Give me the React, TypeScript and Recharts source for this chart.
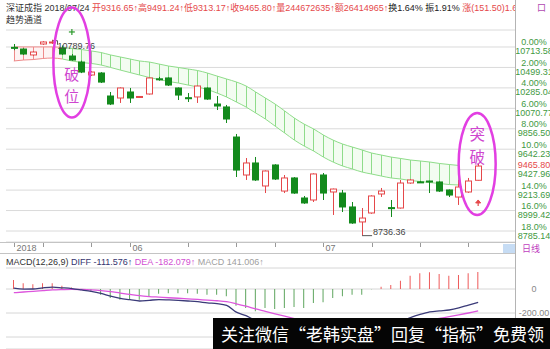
import React from 'react';
import { ComposedChart, Bar, Line, Area, XAxis, YAxis, CartesianGrid, ReferenceDot, Cell } from 'recharts';

// trading days, 2018
const dates = ['05-16','05-17','05-18','05-21','05-22','05-23','05-24','05-25','05-28','05-29','05-30','05-31',
  '06-01','06-04','06-05','06-06','06-07','06-08','06-11','06-12','06-13','06-14','06-15','06-19','06-20','06-21',
  '06-22','06-25','06-26','06-27','06-28','06-29',
  '07-02','07-03','07-04','07-05','07-06','07-09','07-10','07-11','07-12','07-13','07-16','07-17','07-18','07-19',
  '07-20','07-23','07-24'];

const opens = [10710,10692,10630,10745,10756,10703,10619,10556,10420,10441,10200,10179,10242,10185,10221,10380,10389,
  10284,10182,10190,10284,10116,10085,9770,9372,9498,9257,9477,9204,9341,9131,9110,9372,9194,9183,9037,8880,8974,
  9173,9030,9026,9288,9300,9309,9299,9215,9141,9194,9316.65];
const highs = [10745,10700,10670,10775,10789.76,10730,10640,10570,10462,10450,10242,10290,10284,10200,10395,10400,
  10395,10290,10231,10310,10290,10200,10106,9802,9550,9561,9420,9485,9372,9350,9152,9390,9393,9230,9215,9089,9026,
  9160,9236,9110,9320,9330,9310,9312,9305,9220,9320,9341,9491.24];
const lows = [10680,10630,10620,10735,10745,10630,10570,10440,10410,10336,10105,10127,10127,10179,10215,10360,10305,
  10158,10137,10127,10160,10053,9917,9351,9320,9310,9183,9320,9183,9175,9070,9089,9110,8953,8984,8860,8736.36,8965,
  9142,8932,9020,9280,9290,9183,9195,9141,9058,9185,9313.17];
const closes = [10705,10640,10661,10766,10766,10640,10577,10451,10451,10346,10116,10284,10179,10195,10389,10372,10315,
  10210,10176,10305,10168,10095,9959,9424,9498,9320,9414,9330,9341,9183,9079,9383,9183,9225,9037,8869,8921,9152,
  9204,9022,9288,9320,9298,9299,9204,9162,9246,9309,9465.80];

// 趋势通道 upper / lower edge
const chanUpper = [10714,10714,10714,10714,10714,10708,10698,10687,10672,10656,10630,10609,10588,10567,10556,10535,
  10514,10499,10483,10467,10441,10409,10378,10347,10305,10242,10179,10116,10043,9969,9906,9854,9791,9738,9696,9665,
  9634,9602,9581,9560,9545,9529,9519,9508,9493,9482,9472];
const chanLower = [10567,10577,10582,10593,10598,10588,10567,10551,10541,10525,10499,10472,10446,10420,10394,10373,
  10352,10336,10315,10294,10268,10231,10189,10137,10085,10022,9959,9885,9812,9738,9676,9623,9560,9508,9466,9435,
  9403,9382,9361,9341,9330,9314,9304,9293,9283,9272,9267];
const RED_CHANNEL_END = 5;

const diff = [7,-1,0,10,16,10,3,-8,-20,-37,-60,-78,-89,-100,-94,-88,-91,-95,-100,-106,-116,-122,-137,-193,-222,-259,
  -265,-291,-306,-321,-344,-338,-349,-341,-341,-340,-346,-325,-311,-300,-273,-239,-212,-191,-182,-175,-158,-134,-111.576];
const dea = [-31,-25,-20,-14,-8,-5,-3,-4,-7,-13,-22,-34,-45,-56,-63,-68,-73,-77,-82,-87,-93,-98,-106,-123,-143,-166,
  -186,-207,-227,-246,-265,-280,-294,-303,-311,-317,-323,-323,-321,-317,-308,-294,-278,-260,-245,-231,-216,-200,-182.079];
const macd = [75,47,40,47,47,28,12,-8,-25,-47,-75,-89,-89,-89,-61,-39,-36,-36,-36,-39,-47,-47,-61,-139,-158,-186,-158,
  -167,-158,-150,-158,-117,-111,-75,-61,-47,-47,-3,19,33,69,111,131,139,125,111,117,131,141.006];

const gridPrices = [10713.58,10499.31,10285.04,10070.77,9856.50,9642.23,9427.96,9213.69,8999.42,8785.14];
const gridPercents = ['0.00%','2.00%','4.00%','6.00%','8.00%','10.0%','12.0%','14.0%','16.0%','18.0%'];
const macdTicks = [0, -200, -400];
const macdLabels = ['0', '-200.00', ''];
const tickDates = ['05-16','05-21','05-28','06-01','06-11','06-19','06-25','07-02','07-09','07-16','07-23'];
const dateLabels: Record<string, string> = { '05-16': '2018', '06-01': '06', '07-02': '07' };

const PRICE_MIN = 8669.86;
const PRICE_MAX = 10891.66;

const RED = '#e5484a';
const GREEN = '#138a1c';
const CH_GREEN = '#8fdc8a';
const CH_RED = '#ee8a8a';
const AXIS_GREEN = '#3f9a3f';
const FONT = '"Liberation Sans", "Noto Sans CJK SC", sans-serif';
const CJK = '"Noto Sans CJK SC", sans-serif';
const LABEL_X = 534;

const rows = dates.map((d, i) => ({
  d,
  o: opens[i], h: highs[i], l: lows[i], c: closes[i],
  redBand: i <= RED_CHANNEL_END ? [chanLower[i], chanUpper[i]] : null,
  greenBand: i >= RED_CHANNEL_END && i < chanUpper.length ? [chanLower[i], chanUpper[i]] : null,
  hatch: i < chanUpper.length ? [chanLower[i], chanUpper[i]] : null,
  diff: diff[i], dea: dea[i], macd: macd[i],
}));

function Candle(p: any) {
  const { x, y, width, height, payload } = p;
  if (!payload || !isFinite(y)) return null;
  const { o, h, l, c } = payload;
  const top = Math.min(y, y + height);
  const span = Math.abs(height);
  const k = span / (h - l);
  const py = (v: number) => top + (h - v) * k;
  const up = c >= o;
  const col = up ? RED : GREEN;
  const cx = Math.round(x + width / 2) + 0.5;
  const bTop = py(Math.max(o, c));
  const bh = Math.max(1, py(Math.min(o, c)) - bTop);
  return (
    <g>
      <line x1={cx} x2={cx} y1={top} y2={top + span} stroke={col} strokeWidth={1} />
      <rect x={cx - 3} y={bTop} width={6} height={bh} fill={up ? '#fff' : col} stroke={col} strokeWidth={1} />
    </g>
  );
}

function Hatch(p: any) {
  const { x, y, width, height, payload, index } = p;
  if (!payload || !payload.hatch || !isFinite(y)) return null;
  const cx = Math.round(x + width / 2) + 0.5;
  return <line x1={cx} x2={cx} y1={y} y2={y + height} stroke={index < RED_CHANNEL_END ? CH_RED : CH_GREEN} strokeWidth={1} />;
}

function PriceTick(p: any) {
  const i = gridPrices.indexOf(p.payload.value);
  return (
    <g fontSize={9} fontFamily={FONT} fill={AXIS_GREEN} textAnchor="middle">
      {i !== 6 && <text x={LABEL_X} y={p.y - 1.5}>{gridPercents[i]}</text>}
      <text x={LABEL_X} y={p.y + 7.5}>{p.payload.value.toFixed(2)}</text>
    </g>
  );
}

function DateTick(p: any) {
  const label = dateLabels[p.payload.value];
  const x = Math.round(p.x) + 0.5;
  return (
    <g>
      <line x1={x} x2={x} y1={243} y2={247} stroke="#999" />
      {label && <text x={x + 2} y={251} fontSize={9} fontFamily={FONT} fill="#777">{label}</text>}
    </g>
  );
}

function MacdTick(p: any) {
  const label = macdLabels[macdTicks.indexOf(p.payload.value)];
  if (!label) return null;
  return (
    <text x={LABEL_X} y={p.y + 3} fontSize={9} fontFamily={FONT} fill="#888" textAnchor="middle">{label}</text>
  );
}

// hand-drawn style note: ellipse with two stacked characters
function Note({ cx, cy, rx, ry, chars, size, top, gap }: any) {
  return (
    <g>
      <ellipse cx={cx} cy={cy} rx={rx} ry={ry} fill="none" stroke="#e23fe2" strokeWidth={2.5} />
      <text fontSize={size} fontFamily={CJK} fill="#cf46cf" textAnchor="middle">
        <tspan x={cx} y={cy + top}>{chars[0]}</tspan>
        <tspan x={cx} dy={gap}>{chars[1]}</tspan>
      </text>
    </g>
  );
}

function Header() {
  const line: React.CSSProperties = { position: 'absolute', left: 6, fontSize: 9, lineHeight: '12px', whiteSpace: 'nowrap' };
  return (
    <>
      <div style={{ ...line, top: 2, width: 509, overflow: 'hidden' }}>
        <span style={{ color: '#333' }}>深证成指 2018/07/24 </span>
        <span style={{ color: RED }}>开9316.65↑高9491.24↑低9313.17↑收9465.80↑量244672635↑额26414965↑</span>
        <span style={{ color: '#222' }}>换1.64% 振1.91% </span>
        <span style={{ color: RED }}>涨(151.50)1.63%</span>
      </div>
      <div style={{ ...line, top: 2, left: 537, color: '#b048b0', fontFamily: CJK }}>口</div>
      <div style={{ ...line, top: 14, color: '#333' }}>趋势通道</div>
      <div style={{ ...line, top: 256 }}>
        <span style={{ color: '#333' }}>MACD(12,26,9)</span>
        <span style={{ color: '#35356f' }}>{'  '}DIFF -111.576↑</span>
        <span style={{ color: '#d24fd2' }}> DEA -182.079↑</span>
        <span style={{ color: '#a0a0a0' }}> MACD 141.006↑</span>
      </div>
    </>
  );
}

export default function App() {
  return (
    <div style={{ position: 'relative', width: 550, height: 349, background: '#fff', overflow: 'hidden', fontFamily: FONT }}>
      <style>{'body{margin:0}'}</style>
      <Header />

      <div style={{ position: 'absolute', left: 0, top: 0 }}>
        <ComposedChart width={550} height={256} data={rows} margin={{ top: 30, right: 0, bottom: 0, left: 6 }}>
          <CartesianGrid xAxisId="p" yAxisId="p" vertical={false} stroke="#dadada" />
          <XAxis xAxisId="p" dataKey="d" height={14} padding={{ left: 3, right: 32 }} ticks={tickDates} interval={0}
            tickLine={false} axisLine={false} tick={(p: any) => <DateTick {...p} />} />
          <XAxis xAxisId="h" dataKey="d" hide padding={{ left: 3, right: 32 }} />
          <YAxis yAxisId="p" orientation="right" width={35} domain={[PRICE_MIN, PRICE_MAX]} allowDataOverflow
            ticks={gridPrices} interval={0} tickLine={false} axisLine={false} tick={(p: any) => <PriceTick {...p} />} />

          <Area xAxisId="p" yAxisId="p" type="monotone" dataKey="redBand" stroke={CH_RED} fill="#fdf3f3" fillOpacity={1}
            dot={false} activeDot={false} isAnimationActive={false} />
          <Area xAxisId="p" yAxisId="p" type="monotone" dataKey="greenBand" stroke={CH_GREEN} fill="#f3fcf1" fillOpacity={1}
            dot={false} activeDot={false} isAnimationActive={false} />
          <Bar xAxisId="h" yAxisId="p" dataKey="hatch" barSize={1} shape={(p: any) => <Hatch {...p} />} isAnimationActive={false} />
          <Bar xAxisId="p" yAxisId="p" dataKey={(r: any) => [r.l, r.h]} barSize={7} shape={(p: any) => <Candle {...p} />}
            isAnimationActive={false} />

          <ReferenceDot xAxisId="p" yAxisId="p" x={dates[4]} y={highs[4]} shape={(p: any) => (
            <g>
              <polyline points={`${p.cx},${p.cy + 1} ${p.cx + 5},${p.cy + 1} ${p.cx + 5},${p.cy + 5}`} fill="none" stroke="#555" />
              <text x={p.cx + 5} y={p.cy + 9} fontSize={9} fontFamily={FONT} fill="#444">10789.76</text>
            </g>
          )} />
          <ReferenceDot xAxisId="p" yAxisId="p" x={dates[36]} y={lows[36]} shape={(p: any) => (
            <g>
              <line x1={p.cx} x2={p.cx + 10} y1={p.cy} y2={p.cy} stroke="#555" />
              <text x={p.cx + 11} y={p.cy - 1} fontSize={9} fontFamily={FONT} fill="#444">8736.36</text>
            </g>
          )} />
          <ReferenceDot xAxisId="p" yAxisId="p" x={dates[48]} y={closes[48]} shape={(p: any) => (
            <text x={LABEL_X} y={p.cy + 2} fontSize={9} fontFamily={FONT} fill={RED} textAnchor="middle">9465.80</text>
          )} />
          <ReferenceDot xAxisId="p" yAxisId="p" x={dates[6]} y={10871} shape={(p: any) => (
            <g stroke="#2a9a2a" strokeWidth={1.2}>
              <line x1={p.cx - 3} x2={p.cx + 3} y1={p.cy} y2={p.cy} />
              <line x1={p.cx} x2={p.cx} y1={p.cy - 3} y2={p.cy + 3} />
            </g>
          )} />
          <ReferenceDot xAxisId="p" yAxisId="p" x={dates[48]} y={9079} shape={(p: any) => (
            <g fill={RED} stroke={RED}>
              <polygon points={`${p.cx - 2.5},${p.cy} ${p.cx},${p.cy - 3} ${p.cx + 2.5},${p.cy}`} />
              <line x1={p.cx} x2={p.cx} y1={p.cy} y2={p.cy + 3} strokeWidth={1.2} />
            </g>
          )} />
          <ReferenceDot xAxisId="p" yAxisId="p" x={dates[6]} y={10551} shape={(p: any) => (
            <Note cx={p.cx} cy={p.cy} rx={18.5} ry={55} chars={['破', '位']} size={15} top={17} gap={22} />
          )} />
          <ReferenceDot xAxisId="p" yAxisId="p" x={dates[48]} y={9487} shape={(p: any) => (
            <Note cx={p.cx - 1} cy={p.cy} rx={18.5} ry={51} chars={['突', '破']} size={15.5} top={-24} gap={22.5} />
          )} />
        </ComposedChart>
      </div>

      <div style={{ position: 'absolute', left: 0, top: 255 }}>
        <ComposedChart width={550} height={94} data={rows} margin={{ top: 13, right: 0, bottom: 0, left: 6 }}>
          <CartesianGrid vertical={false} stroke="#d6d6d6" />
          <XAxis dataKey="d" hide padding={{ left: 3, right: 32 }} />
          <YAxis orientation="right" width={35} domain={[-500, 175]} allowDataOverflow ticks={macdTicks} interval={0}
            tickLine={false} axisLine={false} tick={(p: any) => <MacdTick {...p} />} />
          <Bar dataKey="macd" barSize={1} isAnimationActive={false}>
            {rows.map((r, i) => <Cell key={i} fill={r.macd >= 0 ? '#ee5a5a' : '#5ea55e'} />)}
          </Bar>
          <Line type="monotone" dataKey="dea" stroke="#dd55dd" strokeWidth={1.3} dot={false} activeDot={false} isAnimationActive={false} />
          <Line type="monotone" dataKey="diff" stroke="#3a3a78" strokeWidth={1.3} dot={false} activeDot={false} isAnimationActive={false} />
        </ComposedChart>
      </div>

      {/* frame */}
      <div style={{ position: 'absolute', left: 515, top: 0, width: 1, height: 349, background: '#b4b4b4' }} />
      <div style={{ position: 'absolute', left: 0, top: 242, width: 515, height: 1, background: '#c4c4c4' }} />
      <div style={{ position: 'absolute', left: 0, top: 253, width: 515, height: 1, background: '#c4c4c4' }} />
      <div style={{ position: 'absolute', left: 503, top: 244, width: 12, height: 9, background: '#c6dcf4' }} />
      <div style={{ position: 'absolute', left: 522, top: 243, fontSize: 9, lineHeight: '12px', color: '#c040c0', fontFamily: CJK }}>日线</div>

      <div style={{ position: 'absolute', left: 213, top: 318, width: 337, height: 31, background: '#050505', color: '#fff',
        fontFamily: CJK, fontSize: 17, lineHeight: '31px', paddingLeft: 8, boxSizing: 'border-box', whiteSpace: 'nowrap' }}>
        关注微信“老韩实盘”回复“指标”免费领
      </div>
    </div>
  );
}
